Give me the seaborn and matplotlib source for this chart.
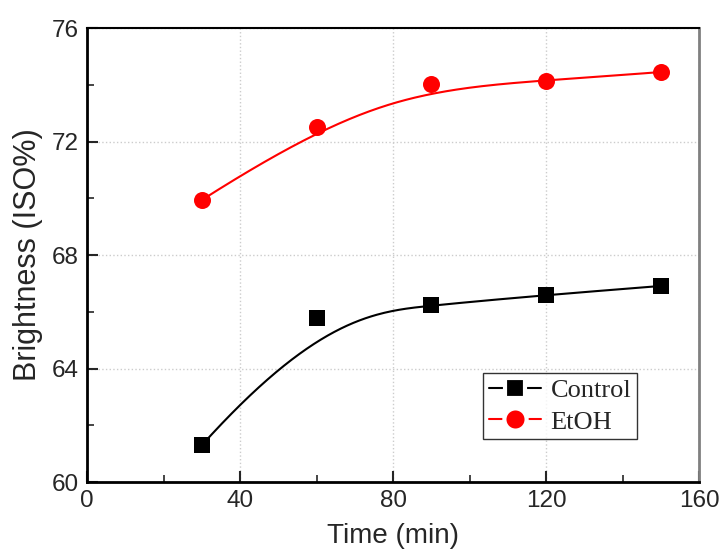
import numpy as np
import pandas as pd
import matplotlib
matplotlib.use("Agg")
import matplotlib.pyplot as plt
from matplotlib.lines import Line2D
from matplotlib.ticker import MultipleLocator
import seaborn as sns

# --- data ---
time_min = [30, 60, 90, 120, 150]
control = [61.30, 65.78, 66.24, 66.59, 66.91]
etoh = [69.94, 72.51, 74.03, 74.13, 74.45]


def bspline(xs, ys, n=200):
    # clamped cubic B-spline with the data points as control points (like Origin's B-spline line)
    pts = np.column_stack([xs, ys]).astype(float)
    k = 3
    m = len(pts)
    inner = np.linspace(0, 1, m - k + 1)[1:-1]
    knots = np.concatenate([[0] * (k + 1), inner, [1] * (k + 1)])
    t = np.linspace(0, 1, n)
    t[-1] = 1 - 1e-12

    def basis(i, p, u):
        if p == 0:
            return ((knots[i] <= u) & (u < knots[i + 1])).astype(float)
        a = 0.0
        b = 0.0
        d1 = knots[i + p] - knots[i]
        d2 = knots[i + p + 1] - knots[i + 1]
        if d1 > 0:
            a = (u - knots[i]) / d1 * basis(i, p - 1, u)
        if d2 > 0:
            b = (knots[i + p + 1] - u) / d2 * basis(i + 1, p - 1, u)
        return a + b

    B = np.array([basis(i, k, t) for i in range(m)])
    curve = B.T @ pts
    return curve[:, 0], curve[:, 1]


sns.set_style("white")
plt.rcParams["font.family"] = ["Liberation Sans", "DejaVu Sans"]

fig = plt.figure(figsize=(7.2, 5.55), dpi=100)
ax = fig.add_axes([0.121, 0.1315, 0.850, 0.818])

cx, cy = bspline(time_min, control)
ex, ey = bspline(time_min, etoh)
curves = pd.DataFrame({"x": cx, "y": cy})
curves_e = pd.DataFrame({"x": ex, "y": ey})

sns.lineplot(data=curves, x="x", y="y", sort=False, color="black", lw=1.5, ax=ax)
sns.lineplot(data=curves_e, x="x", y="y", sort=False, color="red", lw=1.5, ax=ax)
sns.scatterplot(x=time_min, y=control, marker="s", s=130, color="black",
                edgecolor="black", linewidth=0, ax=ax, zorder=3)
sns.scatterplot(x=time_min, y=etoh, marker="o", s=150, color="red",
                edgecolor="red", linewidth=0, ax=ax, zorder=3)

ax.set_xlim(0, 160)
ax.set_ylim(60, 76)
ax.xaxis.set_major_locator(MultipleLocator(40))
ax.xaxis.set_minor_locator(MultipleLocator(20))
ax.yaxis.set_major_locator(MultipleLocator(4))
ax.yaxis.set_minor_locator(MultipleLocator(2))
ax.grid(True, which="major", color="#cccccc", linestyle=":", linewidth=1.0)
ax.tick_params(which="major", direction="in", length=8, width=1.5, labelsize=17.5,
               bottom=True, left=True, top=False, right=False, pad=6)
ax.tick_params(which="minor", direction="in", length=5, width=1.2,
               bottom=True, left=True, top=False, right=False)

for side in ["left", "bottom"]:
    ax.spines[side].set_linewidth(2)
    ax.spines[side].set_color("black")
ax.spines["top"].set_linewidth(1.5)
ax.spines["top"].set_color("black")
ax.spines["right"].set_linewidth(2)
ax.spines["right"].set_color("#808080")

ax.set_xlabel("Time (min)", fontsize=20, labelpad=8)
ax.set_ylabel("Brightness (ISO%)", fontsize=22, labelpad=6)

# white marker edge gives the small gap between line and symbol seen in the legend
handles = [
    Line2D([], [], color="black", lw=1.5, marker="s", markersize=14,
           markerfacecolor="black", markeredgecolor="white", markeredgewidth=3),
    Line2D([], [], color="red", lw=1.5, marker="o", markersize=16,
           markerfacecolor="red", markeredgecolor="white", markeredgewidth=3),
]
leg = ax.legend(handles, ["Control", "EtOH"], loc="lower right",
                bbox_to_anchor=(0.898, 0.095), frameon=True, fancybox=False,
                edgecolor="black", handlelength=2.0, handletextpad=0.35,
                borderpad=0.2, labelspacing=0.3, borderaxespad=0,
                prop={"family": "Liberation Serif", "size": 19})
leg.get_frame().set_linewidth(1.0)

fig.savefig("out.png", dpi=100)
